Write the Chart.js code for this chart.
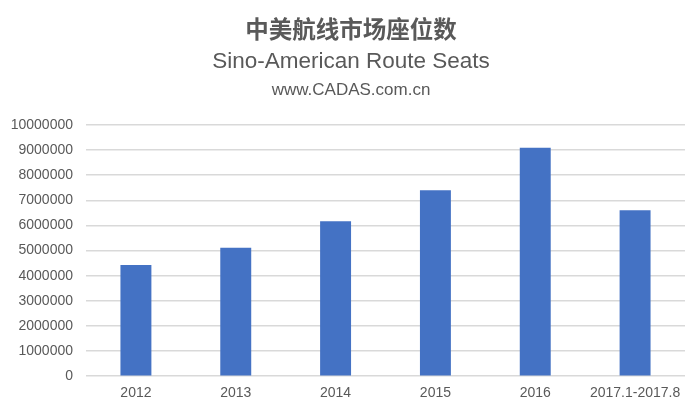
<!DOCTYPE html>
<html>
<head>
<meta charset="utf-8">
<script src="https://cdn.jsdelivr.net/npm/chart.js@4"></script>
<style>
  html, body { margin: 0; padding: 0; background: #ffffff; }
  #wrap { width: 700px; height: 407px; }
</style>
</head>
<body>
<div id="wrap"><canvas id="seatsChart" width="700" height="407"></canvas></div>
<script>
// Chart data
const categories = ["2012", "2013", "2014", "2015", "2016", "2017.1-2017.8"];
const seats = [4430000, 5110000, 6170000, 7400000, 9090000, 6610000];

const titleText = "中美航线市场座位数";
const subtitleText = "Sino-American Route Seats";
const sourceText = "www.CADAS.com.cn";

const textColor = "#595959";
const fontFamily = "'Liberation Sans', Arial, sans-serif";

//Headings: title, subtitle and source, centred on the canvas
const headings = {
    id: "headings",
    afterDraw(chart) {
        const ctx = chart.ctx;
        const cx = chart.width / 2 + 1;
        ctx.save();
        ctx.fillStyle = textColor;
        ctx.textAlign = "center";
        ctx.textBaseline = "middle";
        ctx.font = "bold 23.5px 'Noto Sans CJK SC', sans-serif";
        ctx.fillText(titleText, cx, 29);
        ctx.font = "22.5px " + fontFamily;
        ctx.fillText(subtitleText, cx, 62);
        ctx.font = "17px " + fontFamily;
        ctx.fillText(sourceText, cx, 90);
        ctx.restore();
    }
};

const ctx = document.getElementById("seatsChart").getContext("2d");
new Chart(ctx, {
    type: "bar",
    data: {
        labels: categories,
        datasets: [{
            label: "座位数",
            data: seats,
            backgroundColor: "#4472C4",
            borderWidth: 0,
            barPercentage: 0.31,
            categoryPercentage: 1.0
        }]
    },
    options: {
        responsive: false,
        animation: false,
        devicePixelRatio: 1,
        layout: {
            padding: { left: 8, right: 15, bottom: -4, top: 125 }
        },
        plugins: {
            legend: { display: false },
            tooltip: { enabled: false },
            title: { display: false },
            subtitle: { display: false }
        },
        scales: {
            x: {
                grid: { display: false, drawTicks: false, tickLength: 0 },
                border: { display: false },
                ticks: {
                    color: textColor,
                    font: { family: fontFamily, size: 14 },
                    maxRotation: 0,
                    autoSkip: false,
                    padding: 9
                }
            },
            y: {
                min: 0,
                max: 10000000,
                grid: { color: "#d9d9d9", lineWidth: 1.5, drawTicks: false, tickLength: 0 },
                border: { display: false },
                afterFit: scale => { scale.width = 78; },
                ticks: {
                    stepSize: 1000000,
                    color: textColor,
                    font: { family: fontFamily, size: 14 },
                    padding: 13,
                    callback: value => String(value)
                }
            }
        }
    },
    plugins: [headings]
});
</script>
</body>
</html>
